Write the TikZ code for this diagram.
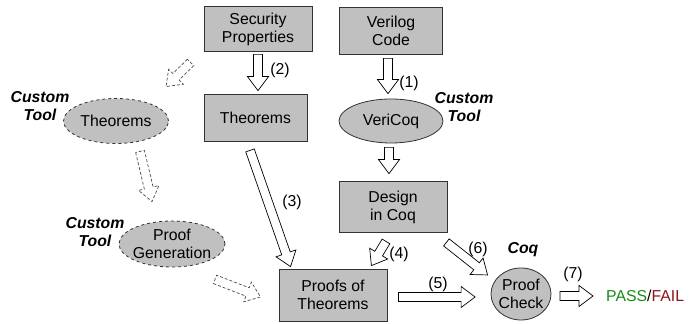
\documentclass[tikz,border=0pt]{standalone}
\usepackage{fontspec}
\setmainfont{Liberation Sans}
\usetikzlibrary{calc,shapes.geometric}

\definecolor{boxgray}{RGB}{192,192,192}
\definecolor{passgreen}{RGB}{20,140,20}
\definecolor{failred}{RGB}{140,20,20}

\newcommand{\diafont}{\fontsize{15.8}{18}\selectfont}

\tikzset{
  box/.style={draw=black!80, fill=boxgray, line width=0.8pt, align=center},
  oval/.style={ellipse, draw=black!80, fill=boxgray, line width=0.8pt, align=center,
    inner xsep=-3pt, inner ysep=0pt},
  tool/.style={font=\diafont\bfseries\itshape, align=center},
  num/.style={inner sep=0pt},
  fat/.style={draw=black, fill=white, line width=0.7pt, to path={
    let \p1=($(\tikztotarget)-(\tikztostart)$),
        \n1={atan2(\y1,\x1)}, \n2={veclen(\x1,\y1)} in
    {[shift={(\tikztostart)}, rotate=\n1]
      (0,-4.5) -- (\n2-14,-4.5) -- (\n2-14,-10.5) -- (\n2,0)
      -- (\n2-14,10.5) -- (\n2-14,4.5) -- (0,4.5) -- cycle}
  }},
  dotfat/.style={fat, densely dashed, draw=black!70},
}

\begin{document}
\begin{tikzpicture}[x=1pt, y=1pt, font=\diafont]
\useasboundingbox (0,0) rectangle (689,324);

% main flow
\node[box, minimum width=108, minimum height=45] (sec) at (258,295) {Security\\Properties};
\node[box, minimum width=103, minimum height=47] (ver) at (391,293) {Verilog\\Code};
\node[box, minimum width=103, minimum height=47] (thm) at (255.5,206) {Theorems};
\node[oval, minimum width=104, minimum height=44] (vcq) at (391,203) {VeriCoq};
\node[box, minimum width=108, minimum height=51] (dsn) at (393,117) {Design\\in Coq};
\node[box, minimum width=108, minimum height=52] (prf) at (333,29) {Proofs of\\Theorems};
\node[oval, minimum width=60, minimum height=52, inner xsep=-4pt] (chk) at (521,30) {Proof\\Check};
\node[anchor=west, inner sep=0pt] (res) at (606,28)
  {\textcolor{passgreen}{PASS}/\textcolor{failred}{FAIL}};

% custom tool side
\node[oval, dashed, minimum width=105, minimum height=45] (thmt) at (116,203) {Theorems};
\node[oval, dashed, minimum width=106, minimum height=46] (gen) at (172,80) {Proof\\Generation};

\node[tool] (tool1) at (40,218) {Custom\\Tool};
\node[tool] (tool2) at (95,92) {Custom\\Tool};
\node[tool] (tool3) at (464,217) {Custom\\Tool};
\node[tool] (coq) at (523,74) {Coq};

% arrows
\draw[fat] ([xshift=-3,yshift=-3.5]ver.south) to ([xshift=-3,yshift=5]vcq.north);
\draw[fat] ([yshift=-2.5]sec.south) to ([xshift=2.5,yshift=3.5]thm.north);
\draw[fat] ([xshift=-5.5,yshift=-8.5]thm.south) to ([xshift=12,yshift=2]prf.north west);
\draw[fat] ([xshift=-7,yshift=-8.5]dsn.south) to ([xshift=-16,yshift=3]prf.north east);
\draw[fat] ([xshift=-2,yshift=-4]vcq.south) to ([xshift=-4,yshift=7.5]dsn.north);
\draw[fat] ([xshift=11,yshift=-2]prf.east) to ([xshift=-15.5,yshift=-3]chk.west);
\draw[fat] ([xshift=-1,yshift=-9.5]dsn.south east) to ([xshift=-3,yshift=19]chk.west);
\draw[fat] ([xshift=8.5,yshift=-2]chk.east) to ([xshift=-13]res.west);

\draw[dotfat] ([xshift=-13,yshift=-10.5]sec.south west) to ([xshift=50,yshift=11.5]thmt.north);
\draw[dotfat] ([xshift=24,yshift=-7.5]thmt.south) to ([xshift=-20,yshift=19]gen.north);
\draw[dotfat] ([xshift=43,yshift=-12]gen.south) to ([xshift=-18,yshift=-2]prf.west);

% step numbers
\node[num] (n1) at (409,241) {(1)};
\node[num] (n2) at (280,254) {(2)};
\node[num] (n3) at (292,122) {(3)};
\node[num] (n4) at (399,70) {(4)};
\node[num] (n5) at (438,40) {(5)};
\node[num] (n6) at (478,75) {(6)};
\node[num] (n7) at (573,50) {(7)};
\end{tikzpicture}
\end{document}
